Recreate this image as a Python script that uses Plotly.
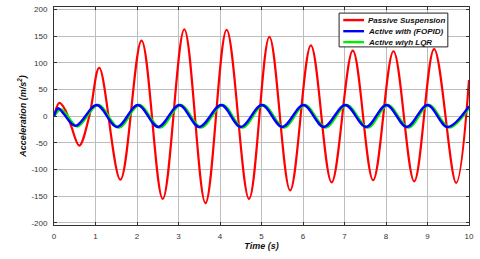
import plotly.graph_objects as go

# ---- data ----
t_passive = [0, 0.13, 0.27, 0.40, 0.61, 0.85, 1.09, 1.60, 2.11, 2.62, 3.14, 3.65, 4.16,
             4.70, 5.19, 5.69, 6.19, 6.69, 7.20, 7.69, 8.18, 8.68, 9.16, 9.69, 10.0]
a_passive = [0, 25, 12, -15, -55, 0, 91, -119, 142, -155, 163, -163, 162,
             -155, 149, -139, 133, -124, 123, -120, 122, -122, 126, -125, 68]

t_fopid = [0, 0.10, 0.22, 0.52, 1.03, 1.52, 2.02, 2.51, 3.02, 3.50, 4.03, 4.50, 5.01,
           5.50, 6.01, 6.50, 7.02, 7.52, 8.01, 8.50, 9.00, 9.48, 10.0]
a_fopid = [0, 15, 6, -18, 21, -20, 21, -20, 21, -20, 21, -20, 21,
           -20, 21, -20, 21, -20, 21, -20, 21, -20, 19]

t_lqr = [0, 0.15, 0.26, 0.56, 1.06, 1.56, 2.05, 2.55, 3.05, 3.54, 4.06, 4.54, 5.04,
         5.54, 6.04, 6.54, 7.05, 7.56, 8.04, 8.54, 9.03, 9.52, 10.0]
a_lqr = [0, 13, 7, -19, 21, -21, 21, -21, 21, -21, 21, -21, 21,
         -21, 21, -21, 21, -21, 21, -21, 21, -21, 16]

x_ticks = [0, 1, 2, 3, 4, 5, 6, 7, 8, 9, 10]
y_ticks = [-200, -150, -100, -50, 0, 50, 100, 150, 200]

names = ["Passive Suspension", "Active with (FOPID)", "Active wiyh LQR"]
colors = ["#ff0000", "#0000ff", "#00ee00"]

fnt = "Liberation Sans, Arial, sans-serif"

fig = go.Figure()
fig.add_trace(go.Scatter(x=t_passive, y=a_passive, mode="lines", name=names[0],
                         line=dict(color=colors[0], width=2.2, shape="spline", smoothing=1.0)))
fig.add_trace(go.Scatter(x=t_lqr, y=a_lqr, mode="lines", name=names[2],
                         line=dict(color=colors[2], width=2.6, shape="spline", smoothing=1.0)))
fig.add_trace(go.Scatter(x=t_fopid, y=a_fopid, mode="lines", name=names[1],
                         line=dict(color=colors[1], width=2.4, shape="spline", smoothing=1.0)))

# compact legend box (MATLAB style)
lx0, lx1, ly0, ly1 = 0.687, 0.949, 0.817, 0.972
fig.add_shape(type="rect", xref="paper", yref="paper", x0=lx0, x1=lx1, y0=ly0, y1=ly1,
              fillcolor="white", line=dict(color="#222222", width=1), layer="above")
rows = [0.940, 0.889, 0.839]
for nm, col, ry in zip(names, colors, rows):
    fig.add_shape(type="line", xref="paper", yref="paper", x0=0.697, x1=0.747, y0=ry, y1=ry,
                  line=dict(color=col, width=2.4), layer="above")
    fig.add_annotation(xref="paper", yref="paper", x=0.753, y=ry, xanchor="left", yanchor="middle",
                       text=nm, showarrow=False,
                       font=dict(family=fnt, size=8, color="#111111", weight="bold", style="italic"))

fig.update_layout(
    width=480, height=259,
    margin=dict(l=54, r=11, t=7, b=34),
    paper_bgcolor="white", plot_bgcolor="white",
    font=dict(family=fnt, size=8, color="#333333"),
    showlegend=False,
)
fig.update_xaxes(range=[0, 10], tickvals=x_ticks, ticktext=[str(v) for v in x_ticks],
                 automargin=False,
                 showgrid=True, gridcolor="#bdbdbd", gridwidth=1,
                 showline=True, linecolor="#333333", linewidth=1, mirror="ticks",
                 ticks="inside", ticklen=3, tickcolor="#333333", zeroline=False,
                 ticklabelstandoff=3,
                 title=dict(text="Time (s)", standoff=3,
                            font=dict(family=fnt, size=9, color="#111111", weight="bold", style="italic")))
fig.update_yaxes(range=[-204, 205], tickvals=y_ticks, ticktext=[str(v) for v in y_ticks],
                 automargin=False,
                 showgrid=True, gridcolor="#bdbdbd", gridwidth=1,
                 showline=True, linecolor="#333333", linewidth=1, mirror="ticks",
                 ticks="inside", ticklen=3, tickcolor="#333333", zeroline=False,
                 ticklabelstandoff=4,
                 title=dict(text="Acceleration (m/s<sup>2</sup>)", standoff=3,
                            font=dict(family=fnt, size=9, color="#111111", weight="bold", style="italic")))

fig.write_html("out.html", config={"displayModeBar": False},
               post_script="document.body.style.margin='0';document.body.style.overflow='hidden';")
